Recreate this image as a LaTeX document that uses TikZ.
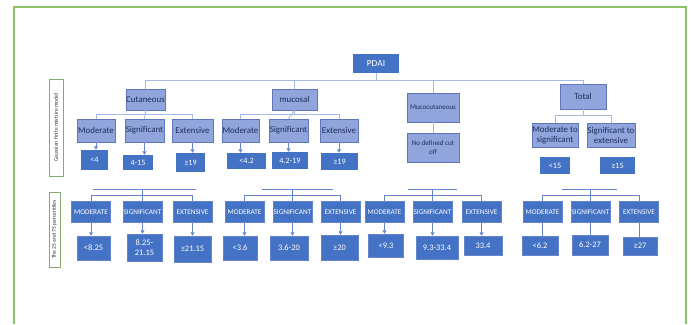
\documentclass[tikz,border=0pt]{standalone}
\usepackage{fontspec}
\setmainfont{Carlito}
\usetikzlibrary{arrows.meta}

\definecolor{boxblue}{RGB}{68,114,196}
\definecolor{catfill}{RGB}{143,165,220}
\definecolor{catline}{RGB}{96,118,186}
\definecolor{cattext}{RGB}{31,45,90}
\definecolor{wirelight}{RGB}{165,185,228}
\definecolor{wiredark}{RGB}{100,132,205}
\definecolor{framegreen}{RGB}{140,195,100}

\begin{document}
\begin{tikzpicture}[x=0.03cm, y=-0.03cm,
    wd/.style={minimum width=#1*0.03cm},
    ht/.style={minimum height=#1*0.03cm},
    cat/.style={draw=catline, fill=catfill, text=cattext, inner sep=0pt, align=center, font=\fontsize{7.6}{8.6}\selectfont},
    val/.style={fill=boxblue, text=white, inner sep=0pt, align=center, font=\fontsize{7}{8}\selectfont},
    caps/.style={draw=wiredark, fill=boxblue, text=white, inner sep=0pt, align=center, font=\fontsize{6.2}{7}\selectfont},
    side/.style={draw=framegreen!60!gray, line width=0.4pt, text=black!80, inner sep=0pt, rotate=90, font=\fontsize{4.8}{5}\selectfont},
    wire/.style={draw=wirelight, line width=0.7pt},
    wiretwo/.style={draw=wiredark, line width=0.7pt},
    arr/.style={draw=wiredark, line width=0.6pt, -{Triangle[length=3pt,width=3.4pt]}}]
    \useasboundingbox (0,0) rectangle (691,324);

    % frame
    \draw[framegreen, line width=1.2pt] (14,324) -- (14,7) -- (686,7) -- (686,324);

    % side labels
    \node[side, wd=97, ht=14] (gauss) at (56,127.5) {Gaussian finite mixture model};
    \node[side, wd=75, ht=11] (perc) at (54.5,229.5) {The 25 and 75 percentiles};

    % upper tree
    \node[val, wd=46, ht=19, font=\fontsize{8}{9}\selectfont] (pdai) at (376,63) {PDAI};
    \node[cat, wd=39, ht=21] (cut) at (145.5,99.5) {Cutaneous};
    \node[cat, wd=45, ht=21] (muc) at (294.5,99.5) {mucosal};
    \node[cat, wd=52, ht=29, font=\fontsize{6}{7.2}\selectfont] (mcc) at (433,107.5) {Mucocutaneous};
    \node[cat, wd=52, ht=29, font=\fontsize{6}{7.2}\selectfont] (nocut) at (433,147.5) {No defined cut\\off};
    \node[cat, wd=46, ht=25] (tot) at (583,96.5) {Total};

    \foreach \n/\x/\w/\t in {cm/96/38/Moderate, cs/144.5/39/Significant, ce/192.5/41/Extensive,
                             mm/240.5/37/Moderate, ms/288.5/39/Significant, me/339/38/Extensive}
      \node[cat, wd=\w, ht=23] (\n) at (\x,130.5) {\t};
    \node[cat, wd=46, ht=24] (tms) at (555,135) {Moderate to\\significant};
    \node[cat, wd=48, ht=24] (tse) at (611,135) {Significant to\\extensive};

    \foreach \n/\x/\y/\w/\h/\t in {cv1/94.5/160/27/20/{<4}, cv2/138/162.5/30/15/{4-15}, cv3/190.5/162.5/29/19/{≥19},
                                   mv1/246.5/161/39/16/{<4.2}, mv2/290/160.5/36/17/{4.2-19}, mv3/339.5/161.5/37/17/{≥19},
                                   tv1/555/165.5/30/17/{<15}, tv2/617.5/165.5/35/17/{≥15}}
      \node[val, wd=\w, ht=\h] (\n) at (\x,\y) {\t};

    \coordinate (top) at (376,80);
    \draw[wire] (pdai) -- (top);
    \foreach \n in {cut,muc,mcc,tot}
      \draw[wire] (top) -| (\n);
    \foreach \p/\a/\b/\c in {cut/cm/cs/ce, muc/mm/ms/me}
    {
      \draw[wire] (\p.south) -- ++(0,4) -| (\a.north);
      \draw[wire] (\p.south) -- ++(0,4) -| (\c.north);
      \draw[wire] (\p.south) -- (\b.north);
    }
    \draw[wire] (tot.south) -- ++(0,6) -| (tms.north);
    \draw[wire] (tot.south) -- ++(0,6) -| (tse.north);
    \draw[wire] (mcc) -- (nocut);
    \foreach \a/\b in {cm/cv1, cs/cv2, ce/cv3, mm/mv1, ms/mv2, me/mv3}
      \draw[arr] (\a.south) -- (\a.south |- \b.north);

    % lower tree
    \foreach \n/\x/\t in {bcm/91/MODERATE, bcs/142.5/SIGNIFICANT, bce/192.5/EXTENSIVE,
                          bmm/244.5/MODERATE, bms/292.5/SIGNIFICANT, bme/340.5/EXTENSIVE,
                          bxm/384.5/MODERATE, bxs/432.5/SIGNIFICANT, bxe/481.5/EXTENSIVE,
                          btm/542.5/MODERATE, bts/590.5/SIGNIFICANT, bte/639/EXTENSIVE}
      \node[caps, wd=39, ht=21] (\n) at (\x,212) {\t};

    \foreach \n/\x/\y/\w/\h/\t in {bv1/93.5/248/33/24/{<8.25}, bv2/144.5/247.5/35/27/{8.25-\\21.15}, bv3/192.5/249/37/26/{≥21.15},
                                   bv4/240/248/34/24/{<3.6}, bv5/289/248/38/24/{3.6-20}, bv6/339.5/247.5/37/25/{≥20},
                                   bv7/386/245.5/35/23/{<9.3}, bv8/437/247.5/42/23/{9.3-33.4}, bv9/483/245.5/38/19/{33.4},
                                   bv10/540/245.5/36/19/{<6.2}, bv11/590/245/36/20/{6.2-27}, bv12/640/246/34/18/{≥27}}
      \node[val, wd=\w, ht=\h, draw=wiredark, font=\fontsize{7.2}{8.4}\selectfont] (\n) at (\x,\y) {\t};

    \foreach \l/\m/\r/\sx/\ex in {bcm/bcs/bce/93/196, bmm/bms/bme/262/333, bxm/bxs/bxe/408/457, btm/bts/bte/562/617}
    {
      \coordinate (\m-l) at (\sx,189);
      \coordinate (\m-r) at (\ex,189);
      \draw[wiretwo] (\m-l) -- (\m-r);
      \draw[wiretwo] (\l.north) -- ++(0,-6) -| (\r.north);
      \draw[wiretwo] (\m.north) -- ++(0,-12);
    }
    \foreach \a/\b in {bcm/bv1, bcs/bv2, bce/bv3, bmm/bv4, bms/bv5, bme/bv6, bxm/bv7, bxs/bv8, bxe/bv9}
      \draw[arr] (\a.south) -- (\a.south |- \b.north);
    \foreach \a/\b in {btm/bv10, bts/bv11, bte/bv12}
      \draw[wiretwo] (\a.south) -- (\a.south |- \b.north);
\end{tikzpicture}
\end{document}
